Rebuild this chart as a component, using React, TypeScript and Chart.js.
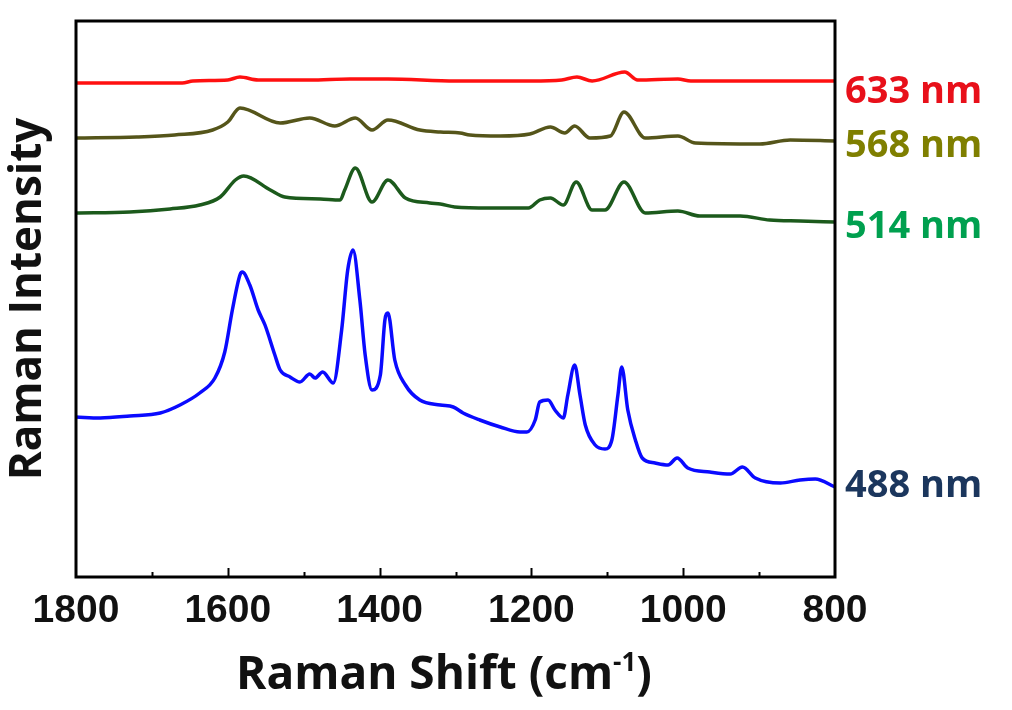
import { useEffect, useRef } from 'react';
import { Chart, registerables } from 'chart.js';

Chart.register(...registerables);

// Raman shift (cm-1) and intensity (arb. units) for each excitation wavelength
const shift488 = [1800, 1768, 1729, 1689, 1663, 1637, 1617, 1604, 1594, 1584, 1581, 1571, 1560, 1551, 1538, 1531, 1518, 1505, 1492, 1485, 1475, 1461, 1450, 1442, 1435, 1426, 1419, 1410, 1399, 1393, 1389, 1380, 1366, 1347, 1320, 1303, 1290, 1268, 1241, 1215, 1206, 1195, 1189, 1178, 1169, 1158, 1152, 1143, 1136, 1129, 1116, 1103, 1094, 1086, 1081, 1073, 1063, 1054, 1037, 1020, 1008, 994, 965, 938, 922, 905, 872, 846, 826, 800];
const int488 = [160, 159, 161, 164, 172, 184, 199, 225, 267, 302, 305, 292, 267, 252, 222, 207, 200, 195, 203, 199, 205, 194, 247, 307, 327, 277, 222, 187, 202, 257, 264, 217, 192, 177, 172, 170, 164, 157, 150, 145, 145, 157, 175, 177, 167, 159, 182, 212, 182, 152, 132, 128, 137, 182, 210, 167, 137, 119, 114, 112, 119, 109, 105, 103, 110, 99, 94, 97, 98, 90];

const shift514 = [1800, 1729, 1676, 1637, 1610, 1590, 1579, 1544, 1525, 1478, 1452, 1446, 1432, 1410, 1389, 1366, 1334, 1320, 1301, 1255, 1204, 1189, 1175, 1158, 1141, 1120, 1103, 1078, 1050, 1007, 978, 925, 886, 846, 800];
const int514 = [364, 365, 368, 372, 380, 397, 401, 387, 380, 378, 377, 387, 409, 375, 397, 379, 374, 373, 370, 369, 369, 377, 379, 372, 395, 367, 367, 395, 364, 366, 361, 361, 357, 356, 355];

const shift568 = [1800, 1720, 1670, 1620, 1600, 1584, 1531, 1492, 1459, 1432, 1410, 1389, 1347, 1320, 1294, 1281, 1241, 1202, 1175, 1156, 1143, 1123, 1096, 1078, 1050, 1007, 984, 899, 859, 800];
const int568 = [439, 440, 442, 447, 455, 469, 454, 459, 451, 459, 447, 457, 447, 445, 444, 442, 441, 443, 450, 444, 451, 439, 441, 465, 439, 441, 434, 433, 437, 436];

const shift633 = [1800, 1660, 1646, 1600, 1584, 1560, 1492, 1439, 1389, 1300, 1200, 1160, 1140, 1120, 1077, 1060, 1007, 990, 800];
const int633 = [494, 494, 496, 497, 500, 497, 497, 498, 498, 496, 496, 497, 500, 496, 505, 497, 498, 496, 496];

const seriesNames = ['633 nm', '568 nm', '514 nm', '488 nm'];
const lineColors = ['#ff1010', '#55551a', '#1c5a1c', '#0a0aff'];
const labelColors = ['#e8101a', '#7f7f00', '#00a04f', '#1b365d'];
const labelBaselines = [474, 420, 339, 80];

const xMin = 800;
const xMax = 1800;
const xStep = 100;
const yMin = 0;
const yMax = 556;

const xTitleMain = 'Raman Shift (cm';
const xTitleSup = '-1';
const xTitleEnd = ')';
const yTitle = 'Raman Intensity';

const zip = (xs: number[], ys: number[]) => xs.map((x, i) => ({ x, y: ys[i] }));

const decorPlugin = {
  id: 'decor',
  afterDraw(chart: any) {
    const { ctx, chartArea, scales } = chart;
    const { left, right, top, bottom } = chartArea;
    const xs = scales.x;
    const ys = scales.y;
    ctx.save();
    // frame
    ctx.strokeStyle = '#000';
    ctx.lineWidth = 3;
    ctx.strokeRect(left, top, right - left, bottom - top);
    // inward ticks on bottom axis
    ctx.lineWidth = 2;
    for (let v = xMin + xStep; v < xMax; v += xStep) {
      const px = Math.round(xs.getPixelForValue(v)) + 0.5;
      const len = v % 200 === 0 ? 9 : 5;
      ctx.beginPath();
      ctx.moveTo(px, bottom);
      ctx.lineTo(px, bottom - len);
      ctx.stroke();
    }
    // series labels at right
    ctx.font = 'bold 38px "Open Sans"';
    ctx.textAlign = 'left';
    ctx.textBaseline = 'alphabetic';
    seriesNames.forEach((name, i) => {
      ctx.fillStyle = labelColors[i];
      ctx.fillText(name, right + 10, ys.getPixelForValue(labelBaselines[i]));
    });
    // x title with superscript
    const mainFont = 'bold 46px "Open Sans"';
    const supFont = 'bold 26px "Open Sans"';
    ctx.font = mainFont;
    const w1 = ctx.measureText(xTitleMain).width;
    const w3 = ctx.measureText(xTitleEnd).width;
    ctx.font = supFont;
    const w2 = ctx.measureText(xTitleSup).width;
    const total = w1 + w2 + w3;
    const cx = 444;
    const base = 689;
    let sx = cx - total / 2;
    ctx.fillStyle = '#111';
    ctx.font = mainFont;
    ctx.fillText(xTitleMain, sx, base);
    sx += w1;
    ctx.font = supFont;
    ctx.fillText(xTitleSup, sx, base - 18);
    sx += w2;
    ctx.font = mainFont;
    ctx.fillText(xTitleEnd, sx, base);
    ctx.restore();
  },
};

export default function App() {
  const ref = useRef<HTMLCanvasElement | null>(null);
  useEffect(() => {
    if (!ref.current) return;
    const chart = new Chart(ref.current, {
      type: 'line',
      data: {
        datasets: [
          { label: seriesNames[0], data: zip(shift633, int633), borderColor: lineColors[0] },
          { label: seriesNames[1], data: zip(shift568, int568), borderColor: lineColors[1] },
          { label: seriesNames[2], data: zip(shift514, int514), borderColor: lineColors[2] },
          { label: seriesNames[3], data: zip(shift488, int488), borderColor: lineColors[3] },
        ].map((d) => ({
          ...d,
          borderWidth: 3.5,
          pointRadius: 0,
          fill: false,
          tension: 0.3,
          cubicInterpolationMode: 'monotone' as const,
        })),
      },
      options: {
        animation: false,
        responsive: false,
        devicePixelRatio: 1,
        layout: { padding: { top: 21, right: 177, left: 0, bottom: 0 } },
        plugins: { legend: { display: false }, tooltip: { enabled: false } },
        scales: {
          x: {
            type: 'linear',
            reverse: true,
            min: xMin,
            max: xMax,
            grid: { display: false, drawTicks: false },
            border: { display: false },
            ticks: {
              stepSize: xStep,
              autoSkip: false,
              maxRotation: 0,
              padding: 11,
              color: '#111',
              font: { family: '"Liberation Sans", Arial', size: 39, weight: 'bold' },
              callback: (v: any) => (Number(v) % 200 === 0 ? String(v) : ''),
            },
            afterFit: (s: any) => {
              s.height = 133;
            },
          },
          y: {
            type: 'linear',
            min: yMin,
            max: yMax,
            grid: { display: false, drawTicks: false },
            border: { display: false },
            ticks: { display: false },
            title: {
              display: true,
              text: yTitle,
              color: '#111',
              font: { family: '"Open Sans"', size: 44, weight: 'bold' },
              padding: { top: 2, bottom: 0 },
            },
            afterFit: (s: any) => {
              s.width = 76;
            },
          },
        },
      },
      plugins: [decorPlugin],
    });
    return () => chart.destroy();
  }, []);
  return (
    <div style={{ position: 'fixed', left: 0, top: 0, width: 1012, height: 710, background: '#fff' }}>
      <canvas ref={ref} width={1012} height={710} style={{ display: 'block' }} />
    </div>
  );
}
